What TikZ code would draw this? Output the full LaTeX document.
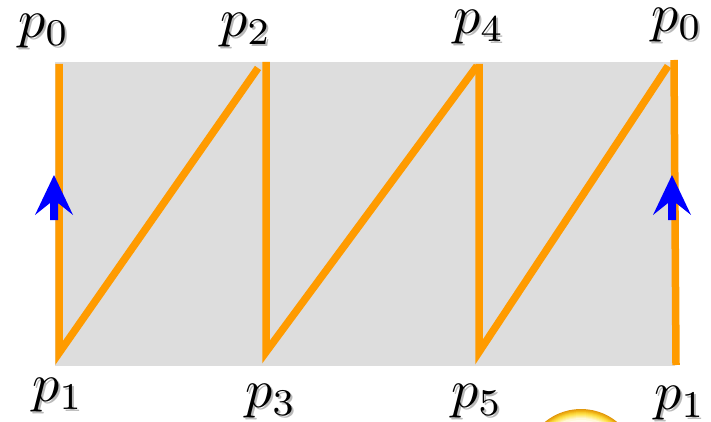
\documentclass[tikz,border=0pt]{standalone}
\definecolor{zigorange}{RGB}{255,155,0}
\definecolor{boxgray}{RGB}{221,221,221}
\definecolor{arrowblue}{RGB}{0,0,255}
\definecolor{shadowgray}{RGB}{185,185,185}
\definecolor{ballrim}{RGB}{225,152,12}
\definecolor{ballgold}{RGB}{242,184,24}
\definecolor{ballmid}{RGB}{255,228,80}
\definecolor{ballin}{RGB}{255,248,215}
\tikzset{
  zig/.style={draw=zigorange, line width=7.5pt, line join=miter, line cap=butt},
  dirarrow/.style={fill=arrowblue, draw=none},
  plabel/.style={inner sep=0pt, scale=5.4},
  pshadow/.style={plabel, text=shadowgray},
}
\newcommand{\plab}[3]{%
  \node[pshadow] (#1s) at ([shift={(1.8,1.8)}]#2) {$p_{#3}$};
  \node[plabel] (#1) at (#2) {$p_{#3}$};
}
\begin{document}
\begin{tikzpicture}[x=1pt,y=-1pt]
\useasboundingbox (0,0) rectangle (711,422);
% background panel
\fill[boxgray] (55,62) rectangle (675,366);
% zigzag corner points
\coordinate (a0) at (59,64);
\coordinate (a1) at (59,353);
\coordinate (a2e) at (258,68);
\coordinate (b0) at (266,62);
\coordinate (b1) at (266,352);
\coordinate (b2e) at (477,66);
\coordinate (c0) at (479,64);
\coordinate (c1) at (479,352);
\coordinate (c2e) at (668,66);
\coordinate (d0) at (674,60);
\coordinate (d1) at (676,365);
\path[zig] (a0) -- (a1) -- (a2e);
\path[zig] (b0) -- (b1) -- (b2e);
\path[zig] (c0) -- (c1) -- (c2e);
\path[zig] (d0) -- (d1);
% blue direction arrows
\foreach \cx/\nm in {54/la, 672/ra}{
  \coordinate (\nm) at (\cx,175);
  \fill[dirarrow] (\nm) -- ++(19,40) -- ++(-15,-12) -- ++(0,17) -- ++(-8,0) -- ++(0,-17) -- ++(-15,12) -- cycle;
}
% yellow ball peeking at the bottom
\coordinate (ball) at (581,466);
\foreach \r/\col in {57/ballrim, 56/ballrim!50!ballgold, 55/ballgold,
  54/ballgold!60!ballmid, 53/ballgold!30!ballmid, 52/ballmid,
  51/ballmid!75!ballin, 50/ballmid!50!ballin, 49/ballmid!25!ballin,
  48/ballin, 46/ballin!50!white}{
  \fill[\col] (ball) circle (\r);
}
% labels
\plab{lp0}{44,31}{0}
\plab{lp2}{246,30}{2}
\plab{lp4}{479,27}{4}
\plab{lp0r}{677,25}{0}
\plab{lp1}{58,395}{1}
\plab{lp3}{271,401}{3}
\plab{lp5}{477,401}{5}
\plab{lp1r}{680,403}{1}
\end{tikzpicture}
\end{document}
